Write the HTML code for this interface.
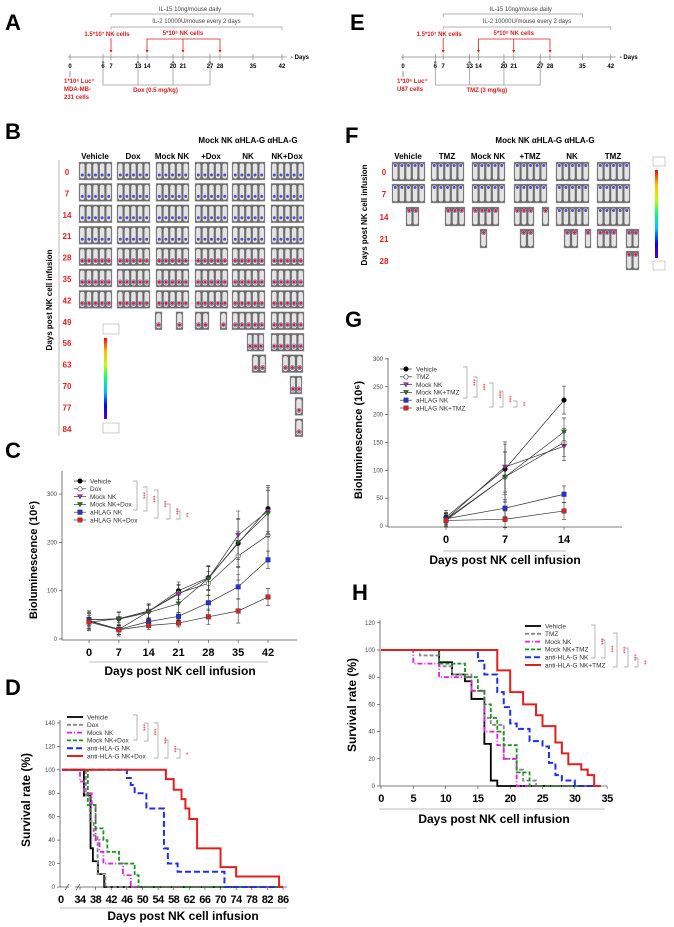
<!DOCTYPE html>
<html><head><meta charset="utf-8">
<style>
html,body{margin:0;padding:0;background:#fff;}
svg{display:block;font-family:"Liberation Sans",Arial,sans-serif;}
</style></head>
<body>
<svg id="fig" width="674" height="927" viewBox="0 0 674 927" xmlns="http://www.w3.org/2000/svg">
<g font-weight="bold" font-size="22" fill="#000">
<text x="5" y="30">A</text>
<text x="350" y="30">E</text>
<text x="5" y="139">B</text>
<text x="345" y="143">F</text>
<text x="5" y="458">C</text>
<text x="345" y="327">G</text>
<text x="5" y="695">D</text>
<text x="352" y="600">H</text>
</g>
</svg>
<script>
// ---------- DATA ----------
const cDays=[0,7,14,21,28,35,42];
const cVehicle=[35,42,57,100,127,198,270];
const cDox=[37,20,57,95,115,172,215];
const cMockNK=[40,42,58,93,125,215,265];
const cMockNKDox=[40,41,55,73,125,200,260];
const cAHLAG=[38,20,36,47,75,108,164];
const cAHLAGDox=[35,19,28,33,46,58,87];
const cErr=[18,14,15,18,25,50,48];
const cErrSmall=[10,10,8,8,16,25,18];
const cTicksY=[0,100,200,300];
const cLegend=["Vehicle","Dox","Mock NK","Mock NK+Dox","aHLAG NK","aHLAG NK+Dox"];

const gDays=[0,7,14];
const gVehicle=[16,102,226];
const gTMZ=[10,88,150];
const gMockNK=[12,106,143];
const gMockNKTMZ=[12,88,169];
const gAHLAG=[13,32,57];
const gAHLAGTMZ=[10,12,27];
const gErr=[12,45,25];
const gErrSmall=[10,15,15];
const gTicksY=[0,50,100,150,200,250,300];
const gLegend=["Vehicle","TMZ","Mock NK","Mock NK+TMZ","aHLAG NK","aHLAG NK+TMZ"];

const dTicksX=[34,38,42,46,50,54,58,62,66,70,74,78,82,86];
const dTicksY=[0,20,40,60,80,100,120,140];
const dVehT=[0,35,36.7,37.3,38.6,40.2], dVehV=[100,78,33,22,11,0];
const dDoxT=[0,35.5,36.5,37.5,38.5,40.5], dDoxV=[100,78,56,44,11,0];
const dMockT=[0,34,35,37,38,39,40,45,47], dMockV=[100,90,80,70,40,30,20,10,0];
const dMockDoxT=[0,36,38,40,41,44,48,49], dMockDoxV=[100,70,50,40,30,20,10,0];
const dAntiT=[0,46,47,48,51,55.5,56.5,59,71], dAntiV=[100,93,87,80,67,33,20,13,0];
const dAntiDoxT=[0,56,58,60,61,62,64,70,74,85], dAntiDoxV=[100,92,83,75,67,58,33,17,9,0];
const dLegend=["Vehicle","Dox","Mock NK","Mock NK+Dox","anti-HLA-G NK","anti-HLA-G NK+Dox"];

const hTicksX=[0,5,10,15,20,25,30,35];
const hTicksY=[0,20,40,60,80,100,120];
const hVehT=[0,9,11,13,14,16,17,18], hVehV=[100,91,82,77,64,31,4,0];
const hTmzT=[0,6,9,11,14,16,17,19,21,22,24], hTmzV=[100,96,88,82,70,50,45,20,12,4,0];
const hMockT=[0,5,9,14,16,18,19,21], hMockV=[100,90,80,70,40,30,20,0];
const hMockTmzT=[0,9,13,15,16,17,18,19,21,23], hMockTmzV=[100,90,80,70,60,50,40,30,10,0];
const hAntiT=[0,15,16,18,19,20,21,23,25,26,27,28,30], hAntiV=[100,92,82,69,58,46,42,33,29,17,8,4,0];
const hAntiTmzT=[0,18,20,22,24,25,27,28,29,31,32,33], hAntiTmzV=[100,85,69,60,52,44,32,24,16,12,8,0];
const hLegend=["Vehicle","TMZ","Mock NK","Mock NK+TMZ","anti-HLA-G NK","anti-HLA-G NK+TMZ"];

const tlDays=[0,6,7,13,14,20,21,27,28,35,42];

// ---------- HELPERS ----------
const NS="http://www.w3.org/2000/svg";
const svg=document.getElementById('fig');
function mk(tag,attrs,parent){const e=document.createElementNS(NS,tag);for(const k in attrs)e.setAttribute(k,attrs[k]);(parent||svg).appendChild(e);return e;}
function tx(x,y,s,attrs,parent){const e=mk('text',Object.assign({x:x,y:y},attrs||{}),parent);e.textContent=s;return e;}
function grp(name){const g=mk('g',{});return g;}
function stepPath(T,V,xf,yf,xEnd){let d='M'+xf(T[0])+' '+yf(V[0]);for(let i=1;i<T.length;i++){d+=' H'+xf(T[i])+' V'+yf(V[i]);}d+=' H'+xEnd;return d;}
function bracket(g,x,y0,y1,label){
  mk('path',{d:`M${x-4} ${y0} H${x} V${y1} H${x-4}`,fill:'none',stroke:'#999','stroke-width':0.7},g);
  tx(x+4,(y0+y1)/2,label,{fill:'#e02020','font-size':6,'text-anchor':'middle',transform:`rotate(90 ${x+4} ${(y0+y1)/2})`},g);
}

// ---------- TIMELINES ----------
function timeline(ox,sc,name,cellTxt1,cellTxt2,drug){
  const g=grp(name);
  const off=[0,33,41,68,77,103,113,140,150,183,212];
  const X=d=>ox+off[tlDays.indexOf(d)]*sc;
  mk('line',{x1:ox-2,y1:57,x2:X(42)+5,y2:57,stroke:'#888','stroke-width':0.8},g);
  tx(X(42)+9,59,'- Days',{'font-size':6,'font-weight':'bold'},g);
  tlDays.forEach(d=>{
    mk('line',{x1:X(d),y1:54,x2:X(d),y2:60,stroke:'#888','stroke-width':0.7},g);
    tx(X(d),68,String(d),{'font-size':6,'text-anchor':'middle','font-weight':'bold'},g);
  });
  mk('path',{d:`M${X(7)} 17 V14 H${X(35)} V17`,fill:'none',stroke:'#999','stroke-width':0.7},g);
  tx((X(7)+X(35))/2+8,11,'IL-15 10ng/mouse daily',{'font-size':6,'text-anchor':'middle',fill:'#444'},g);
  mk('path',{d:`M${X(7)} 30 V27 H${X(42)} V30`,fill:'none',stroke:'#999','stroke-width':0.7},g);
  tx((X(7)+X(42))/2,23,'IL-2 10000U/mouse every 2 days',{'font-size':6,'text-anchor':'middle',fill:'#444'},g);
  const red='#d42020';
  tx(X(7)-4,36,'1.5*10⁷ NK cells',{'font-size':6,'font-weight':'bold',fill:red,'text-anchor':'middle'},g);
  mk('line',{x1:X(7),y1:38,x2:X(7),y2:52,stroke:red,'stroke-width':0.8},g);
  tx(X(21),35,'5*10⁶ NK cells',{'font-size':6,'font-weight':'bold',fill:red,'text-anchor':'middle'},g);
  mk('path',{d:`M${X(14)} 52 V39 H${X(28)} V52 M${X(21)} 39 V52`,fill:'none',stroke:red,'stroke-width':0.8},g);
  [14,21,28,7].forEach(d=>mk('path',{d:`M${X(d)-1.5} 50 L${X(d)} 53 L${X(d)+1.5} 50 Z`,fill:red},g));
  mk('path',{d:`M${X(6)} 61 V85 H${X(27)} V61 M${X(13)} 61 V85 M${X(20)} 61 V85`,fill:'none',stroke:'#999','stroke-width':0.8},g);
  [6,13,20,27].forEach(d=>mk('path',{d:`M${X(d)-1.5} 63 L${X(d)} 60 L${X(d)+1.5} 63 Z`,fill:'#777'},g));
  tx((X(13)+X(20))/2,92,drug,{'font-size':6,'font-weight':'bold',fill:red,'text-anchor':'middle'},g);
  mk('line',{x1:X(0),y1:77,x2:X(0),y2:71,stroke:'#777','stroke-width':0.8},g);
  tx(X(0)-6,83,'1*10⁶ Luc⁺',{'font-size':6,'font-weight':'bold',fill:red},g);
  tx(X(0)-6,91,cellTxt1,{'font-size':6,'font-weight':'bold',fill:red},g);
  if(cellTxt2)tx(X(0)-6,99,cellTxt2,{'font-size':6,'font-weight':'bold',fill:red},g);
}
timeline(70,1,'timeline-panel-a','MDA-MB-','231 cells','Dox (0.5 mg/kg)');
timeline(403,0.98,'timeline-panel-e','U87 cells','','TMZ (3 mg/kg)');

// ---------- IMAGING GRIDS ----------
function mice(g,x,y,w,h,n,top,level){
  mk('rect',{x:x,y:y,width:w,height:h,fill:'#6c6c6c',stroke:'#aaa','stroke-width':0.4},g);
  const mw=w/n;
  for(let i=0;i<n;i++){
    const cx=x+mw*(i+0.5);
    mk('rect',{x:cx-mw*0.34,y:y+1.5,width:mw*0.68,height:h-3,rx:mw*0.3,fill:'#e4e4e4'},g);
    const dy=top?y+3.5:y+h-5;
    mk('circle',{cx:cx,cy:dy,r:1.5,fill:level>1?'#e02020':'#5050d0'},g);
    if(level>1)mk('circle',{cx:cx,cy:dy,r:2.2,fill:'none',stroke:'#4040c0','stroke-width':0.5},g);
  }
}
(function(){
  const g=grp('imaging-grid-b');
  const cols=[79,117,156,195,232,271];
  const rows=['0','7','14','21','28','35','42','49','56','63','70','77','84'];
  tx(248,143,'Mock NK αHLA-G αHLA-G',{'font-size':8,'font-weight':'bold','text-anchor':'middle'},g);
  ['Vehicle','Dox','Mock NK','+Dox','NK','NK+Dox'].forEach((s,i)=>tx(cols[i]+16,159,s,{'font-size':8,'font-weight':'bold','text-anchor':'middle'},g));
  mk('line',{x1:59,y1:160,x2:59,y2:436,stroke:'#999','stroke-width':0.7},g);
  tx(52,300,'Days post NK cell infusion',{'font-size':8,'font-weight':'bold','text-anchor':'middle',transform:'rotate(-90 52 300)'},g);
  rows.forEach((r,i)=>{
    const y=162+i*21.4;
    tx(67,y+13,r,{'font-size':8,'font-weight':'bold',fill:'#e02020','text-anchor':'middle'},g);
    if(i<7)cols.forEach(c=>mice(g,c,y,33,18,5,false,i>=4?2:1));
  });
  const y=i=>162+i*21.4;
  mice(g,155,y(7),7,18,1,false,2);mice(g,176,y(7),7,18,1,false,2);
  mice(g,195,y(7),14,18,2,false,2);mice(g,220,y(7),7,18,1,false,2);
  mice(g,232,y(7),33,18,5,false,2);mice(g,271,y(7),33,18,5,false,2);
  mice(g,247,y(8),17,18,3,false,2);mice(g,271,y(8),33,18,5,false,2);
  mice(g,252,y(9),14,18,2,false,2);mice(g,282,y(9),21,18,3,false,2);
  mice(g,290,y(10),12,18,2,false,2);mice(g,295,y(11),8,18,1,false,2);mice(g,295,y(12),8,18,1,false,2);
  const defs=mk('defs',{});
  const lg=mk('linearGradient',{id:'cbar',x1:0,y1:1,x2:0,y2:0},defs);
  ['#6000c0','#0000ff','#00c0ff','#00ff80','#c0ff00','#ffc000','#ff0000'].forEach((c,i)=>mk('stop',{offset:i/6,'stop-color':c},lg));
  mk('rect',{x:103,y:324,width:16,height:10,fill:'#fff',stroke:'#999','stroke-width':0.5},g);
  mk('rect',{x:104,y:338,width:3,height:81,fill:'url(#cbar)'},g);
  mk('rect',{x:103,y:423,width:16,height:10,fill:'#fff',stroke:'#999','stroke-width':0.5},g);
})();
(function(){
  const g=grp('imaging-grid-f');
  const cols=[392,431,472,514,556,597];
  const rows=['0','7','14','21','28'];
  const ys=[162,184,207,229,251];
  tx(545,143,'Mock NK  αHLA-G   αHLA-G',{'font-size':8,'font-weight':'bold','text-anchor':'middle'},g);
  ['Vehicle','TMZ','Mock NK','+TMZ','NK','TMZ'].forEach((s,i)=>tx(cols[i]+16,159,s,{'font-size':8,'font-weight':'bold','text-anchor':'middle'},g));
  tx(367,215,'Days post NK cell infusion',{'font-size':8,'font-weight':'bold','text-anchor':'middle',transform:'rotate(-90 367 215)'},g);
  rows.forEach((r,i)=>tx(384,ys[i]+13,r,{'font-size':8,'font-weight':'bold',fill:'#e02020','text-anchor':'middle'},g));
  [0,1].forEach(i=>cols.forEach(c=>mice(g,c,ys[i],33,19,5,true,1)));
  mice(g,406,ys[2],13,19,2,true,2);mice(g,445,ys[2],20,19,3,true,2);mice(g,472,ys[2],27,19,4,true,2);
  mice(g,514,ys[2],20,19,3,true,2);mice(g,542,ys[2],7,19,1,true,2);mice(g,556,ys[2],33,19,5,true,1);mice(g,597,ys[2],33,19,5,true,1);
  mice(g,480,ys[3],7,19,1,true,2);mice(g,520,ys[3],14,19,2,true,2);mice(g,564,ys[3],14,19,2,true,2);mice(g,585,ys[3],6,19,1,true,2);
  mice(g,597,ys[3],20,19,3,true,2);mice(g,626,ys[3],13,19,2,true,2);mice(g,626,ys[4],13,19,2,true,2);
  mk('rect',{x:653,y:157,width:12,height:9,fill:'#fff',stroke:'#999','stroke-width':0.5},g);
  mk('rect',{x:655,y:170,width:3,height:88,fill:'url(#cbar)'},g);
  mk('rect',{x:653,y:261,width:12,height:9,fill:'#fff',stroke:'#999','stroke-width':0.5},g);
})();

// ---------- MARKERS ----------
function marker(g,type,x,y,color){
  if(type==='circle')return mk('circle',{cx:x,cy:y,r:2.3,fill:color,stroke:'#000','stroke-width':0.5},g);
  if(type==='ocircle')return mk('circle',{cx:x,cy:y,r:2.2,fill:'#fff',stroke:'#666','stroke-width':0.8},g);
  if(type==='tri')return mk('path',{d:`M${x-2.6} ${y-2} L${x+2.6} ${y-2} L${x} ${y+2.5} Z`,fill:color,stroke:'#333','stroke-width':0.4},g);
  return mk('rect',{x:x-2.3,y:y-2.3,width:4.6,height:4.6,fill:color,stroke:'#333','stroke-width':0.4},g);
}
const lineStyles=[['circle','#000'],['ocircle','#666'],['tri','#c020c0'],['tri','#207020'],['sq','#2030e0'],['sq','#e02020']];

function lineChart(name,days,series,errs,xf,yf,x0,x1,yTop,yZero,ticksY,ticksX,legend,lx,ly,brackets,ylab,ylx,yly,under,titleY,titleX){
  const g=grp(name);
  mk('line',{x1:x0,y1:yTop,x2:x0,y2:yZero+1,stroke:'#555','stroke-width':0.8},g);
  mk('line',{x1:x0,y1:yZero+1,x2:x1,y2:yZero+1,stroke:'#555','stroke-width':0.8},g);
  ticksY.forEach(v=>{mk('line',{x1:x0-3,y1:yf(v),x2:x0,y2:yf(v),stroke:'#555','stroke-width':0.7},g);
    tx(x0-5,yf(v)+2,String(v),{'font-size':6,'text-anchor':'end',fill:'#444'},g);});
  ticksX.forEach(d=>{mk('line',{x1:xf(d),y1:yZero+1,x2:xf(d),y2:yZero+4,stroke:'#555','stroke-width':0.7},g);
    tx(xf(d),yZero+17,String(d),{'font-size':11,'font-weight':'bold','text-anchor':'middle'},g);});
  mk('line',{x1:under[0],y1:under[1],x2:under[2],y2:under[1],stroke:'#aaa','stroke-width':0.8},g);
  tx(titleX,titleY,'Days post NK cell infusion',{'font-size':12,'font-weight':'bold','text-anchor':'middle'},g);
  tx(ylx,yly,ylab,{'font-size':11,'font-weight':'bold','text-anchor':'middle',transform:`rotate(-90 ${ylx} ${yly})`},g);
  series.forEach((s,si)=>{
    const sg=mk('g',{},g);
    
    
    let d='';s.forEach((v,i)=>{d+=(i?'L':'M')+xf(days[i])+' '+yf(v)+' ';});
    mk('path',{d:d,fill:'none',stroke:'#333','stroke-width':0.7},sg);
    s.forEach((v,i)=>{const e=errs[si][i];const x=xf(days[i]);
      mk('path',{d:`M${x} ${yf(v-e)} V${yf(v+e)} M${x-2} ${yf(v-e)} H${x+2} M${x-2} ${yf(v+e)} H${x+2}`,stroke:'#333','stroke-width':0.6,fill:'none'},sg);});
    s.forEach((v,i)=>marker(sg,lineStyles[si][0],xf(days[i]),yf(v),lineStyles[si][1]));
  });
  const lgd=mk('g',{},g);
  
  
  legend.forEach((s,i)=>{const y=ly+i*7.8;
    mk('line',{x1:lx,y1:y,x2:lx+12,y2:y,stroke:'#333','stroke-width':0.7},lgd);
    marker(lgd,lineStyles[i][0],lx+6,y,lineStyles[i][1]);
    tx(lx+16,y+2.3,s,{'font-size':6.5,fill:'#333'},lgd);});
  brackets.forEach(b=>bracket(g,b[0],b[1],b[2],b[3]));
}
const xC=d=>89+d*4.262, yC=v=>639-v*0.483;
lineChart('chart-c-bioluminescence',cDays,[cVehicle,cDox,cMockNK,cMockNKDox,cAHLAG,cAHLAGDox],[cErr,cErr,cErr,cErr,cErrSmall,cErrSmall],
  xC,yC,62,297,471,639,cTicksY,cDays,cLegend,74,481,
  [[137,481,510,'***'],[147,487,511,'***'],[158,490,518,'***'],[170,504,519,'***'],[180,511,519,'**']],
  'Bioluminescence (10⁶)',37,560,[89,662,268],675,180);
const xG=d=>446+d*8.43, yG=v=>526-v*0.557;
lineChart('chart-g-bioluminescence',gDays,[gVehicle,gTMZ,gMockNK,gMockNKTMZ,gAHLAG,gAHLAGTMZ],[gErr,gErr,gErr,gErr,gErrSmall,gErrSmall],
  xG,yG,388,622,358,526,gTicksY,gDays,gLegend,400,369,
  [[467,367,398,'***'],[477,377,397,'***'],[493,383,407,'***'],[503,391,407,'***'],[517,401,407,'**']],
  'Bioluminescence (10⁶)',362,440,[443,551,566],564,505);

// ---------- SURVIVAL ----------
const survStyles=[['#000',1.8,''],['#888',1.8,'4,2'],['#e020e0',1.8,'5,2,1,2'],['#209020',1.8,'4,2'],['#2030e0',2,'6,3'],['#e02020',2,'']];
function survChart(name,series,xf,yf,x0,x1,yTop,ticksY,ticksX,legend,lx,ly,brackets,under,titleX,titleY,ylx,yly,xEnd,fs){
  const g=grp(name);
  mk('line',{x1:x0,y1:yTop,x2:x0,y2:yf(0),stroke:'#555','stroke-width':0.8},g);
  mk('line',{x1:x0,y1:yf(0),x2:x1,y2:yf(0),stroke:'#555','stroke-width':0.8},g);
  ticksY.forEach(v=>{mk('line',{x1:x0-3,y1:yf(v),x2:x0,y2:yf(v),stroke:'#555','stroke-width':0.7},g);
    tx(x0-5,yf(v)+2,String(v),{'font-size':6,'text-anchor':'end',fill:'#444'},g);});
  ticksX.forEach(d=>{mk('line',{x1:xf(d),y1:yf(0),x2:xf(d),y2:yf(0)+3,stroke:'#555','stroke-width':0.7},g);
    tx(xf(d),yf(0)+16,String(d),{'font-size':fs,'font-weight':'bold','text-anchor':'middle','letter-spacing':'-0.5'},g);});
  mk('line',{x1:under[0],y1:under[1],x2:under[2],y2:under[1],stroke:'#aaa','stroke-width':0.8},g);
  tx(titleX,titleY,'Days post NK cell infusion',{'font-size':12,'font-weight':'bold','text-anchor':'middle'},g);
  tx(ylx,yly,'Survival rate (%)',{'font-size':12,'font-weight':'bold','text-anchor':'middle',transform:`rotate(-90 ${ylx} ${yly})`},g);
  series.forEach((s,i)=>{const st=survStyles[i];
    const p=mk('path',{d:stepPath(s[0],s[1],xf,yf,xEnd),fill:'none',stroke:st[0],'stroke-width':st[1],'stroke-dasharray':st[2]},g);
    
    });
  const lgd=mk('g',{},g);
  
  
  legend.forEach((s,i)=>{const y=ly+i*7.8;const st=survStyles[i];
    mk('line',{x1:lx,y1:y,x2:lx+16,y2:y,stroke:st[0],'stroke-width':st[1],'stroke-dasharray':st[2]},lgd);
    tx(lx+20,y+2.3,s,{'font-size':6.5,fill:'#333'},lgd);});
  brackets.forEach(b=>bracket(g,b[0],b[1],b[2],b[3]));
}
const xD=d=>d<34?62+d*(16/34):80+(d-34)*3.904, yD=v=>887-v*1.172;
survChart('chart-d-survival',[[dVehT,dVehV],[dDoxT,dDoxV],[dMockT,dMockV],[dMockDoxT,dMockDoxV],[dAntiT,dAntiV],[dAntiDoxT,dAntiDoxV]],
  xD,yD,60,287,720,dTicksY,dTicksX,dLegend,67,717,
  [[137,715,740,'***'],[148,723,741,'***'],[158,723,758,'***'],[168,740,758,'***'],[180,749,758,'*']],
  [60,908,287],183,920,30,800,xD(86),11);
(function(){const g=svg.lastChild;
  tx(61,903,'0',{'font-size':11,'font-weight':'bold','text-anchor':'middle'},g);
  mk('path',{d:'M65 890 L69 884 M76 890 L80 884',stroke:'#555','stroke-width':0.7},g);
  mk('rect',{x:69,y:885,width:6,height:4,fill:'#fff'},g);})();
const xH=d=>381+d*6.46, yH=v=>786-v*1.36;
survChart('chart-h-survival',[[hVehT,hVehV],[hTmzT,hTmzV],[hMockT,hMockV],[hMockTmzT,hMockTmzV],[hAntiT,hAntiV],[hAntiTmzT,hAntiTmzV]],
  xH,yH,380,607,620,hTicksY,hTicksX,hLegend,525,626,
  [[595,625,658,'***'],[605,640,658,'***'],[617,633,667,'***'],[628,648,667,'***'],[638,658,667,'**']],
  [379,809,605],494,823,356,705,xH(34),11);
</script>
</body></html>
